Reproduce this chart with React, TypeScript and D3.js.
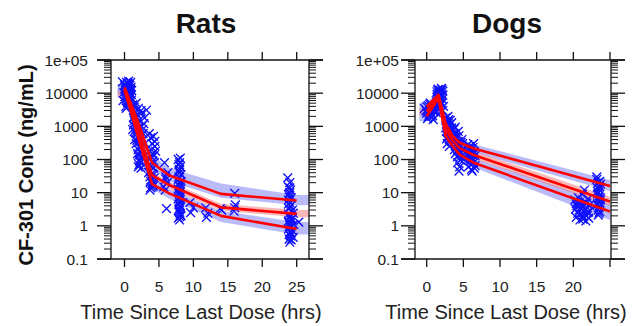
import React from "react";
import * as d3 from "d3";

const W = 632;
const H = 326;

const yTicks = [0.1, 1, 10, 100, 1000, 10000, 100000];
const yTickLabels = ["0.1", "1", "10", "100", "1000", "10000", "1e+05"];
const xTicks = [0, 5, 10, 15, 20, 25];

// ---- Rats: simulated percentiles (5th / 50th / 95th) ----
const ratTimes = [0, 1, 2, 4, 6.5, 14, 25];
const ratP95 = [15000, 4500, 1300, 80, 33, 9.2, 5.8];
const ratP50 = [13500, 3500, 800, 34, 17, 3.6, 2.3];
const ratP05 = [12000, 2500, 450, 18, 9.5, 2.0, 0.8];

// confidence bands around each percentile
const ratBandTimes = [-1, 0, 1, 2, 4, 6.5, 14, 25, 27];
const ratBand95Lo = [11000, 11500, 3300, 900, 50, 22, 7, 4.2, 4.2];
const ratBand95Hi = [19000, 19000, 6000, 2000, 130, 55, 19, 8.5, 8.5];
const ratBand50Lo = [7000, 10500, 2800, 600, 27, 13, 2.9, 1.8, 1.8];
const ratBand50Hi = [10500, 15500, 4200, 1000, 42, 21, 4.6, 3.0, 3.0];
const ratBand05Lo = [8500, 9500, 1800, 300, 13, 6.5, 1.3, 0.55, 0.55];
const ratBand05Hi = [13500, 14000, 3200, 600, 25, 13, 2.8, 1.3, 1.3];

// observed rat concentrations [time, conc]
const ratObs: [number, number][] = [
  [0.1, 18000], [0.2, 15000], [0.3, 12000], [0.15, 9500], [0.25, 8000], [0.4, 16000],
  [0.5, 20000], [0.6, 14000], [0.7, 11000], [0.8, 17000], [0.9, 13000], [1.0, 9000],
  [0.35, 7000], [0.55, 6000], [0.75, 5000], [0.2, 4000], [0.45, 19000], [0.65, 10000],
  [0.85, 7500], [0.1, 12500], [0.3, 21000], [0.5, 8500], [0.7, 18500], [0.95, 15000],
  [0.6, 6500], [0.25, 3500], [0.4, 11500], [0.8, 9800], [1.05, 12000], [0.15, 14500],
  [-0.3, 22000], [-0.2, 6000], [0.0, 17000], [-0.1, 10500], [0.05, 7800], [0.9, 21000],
  [0.6, 23000], [0.35, 13500], [0.75, 8200], [1.0, 6200], [0.45, 5200], [0.2, 11000],
  [1.2, 4500], [1.3, 3000], [1.5, 2000], [1.4, 1500], [1.6, 1000], [1.2, 800],
  [1.8, 600], [1.5, 400], [1.7, 300], [2.0, 200], [1.9, 150], [2.2, 100], [2.1, 70],
  [1.6, 2500], [1.8, 1200], [2.0, 900], [2.3, 500], [2.4, 350], [2.2, 250], [1.4, 700],
  [1.3, 1800], [2.5, 180], [2.6, 120], [2.0, 60], [2.3, 80], [1.9, 450], [2.1, 1500],
  [2.5, 2500], [2.6, 800], [2.8, 1200], [1.7, 5000], [2.4, 3000], [3.2, 3100],
  [1.4, 3800], [1.6, 650], [1.8, 380], [2.0, 130], [2.2, 90], [2.4, 55], [1.5, 1300],
  [1.7, 850], [1.9, 2200], [2.1, 320], [2.3, 160], [2.5, 1000], [2.7, 600], [2.9, 1800],
  [1.3, 1100], [2.0, 3500],
  [3.6, 600], [3.8, 450], [4.0, 300], [4.2, 500], [4.4, 350], [3.9, 200], [4.1, 150],
  [3.7, 100], [4.3, 80], [4.0, 60], [3.8, 45], [4.2, 35], [3.9, 25], [4.1, 20],
  [4.0, 15], [3.7, 12], [4.3, 28], [3.6, 70], [4.4, 250], [4.5, 180], [3.5, 40],
  [4.1, 18], [3.8, 14], [4.2, 55], [3.9, 120], [4.1, 90], [4.0, 38], [3.8, 22],
  [4.2, 16], [3.7, 30], [4.3, 130],
  [5.8, 80], [6.0, 30], [6.2, 20], [5.9, 12], [6.1, 3.3], [5.7, 15], [6.3, 40], [6.0, 25],
  [7.8, 100], [8.0, 80], [8.1, 60], [7.9, 45], [8.2, 35], [7.8, 25], [8.0, 20], [8.1, 15],
  [7.9, 12], [8.0, 10], [8.2, 8], [7.8, 6.5], [8.0, 5], [8.1, 4], [7.9, 3.2], [8.0, 2.5],
  [8.2, 2], [7.8, 1.7], [8.0, 1.5], [8.1, 110], [7.9, 70], [8.0, 50], [7.9, 30], [8.1, 18],
  [8.0, 7], [7.9, 2.8], [8.1, 3.6], [8.0, 9], [7.8, 13], [8.2, 22], [8.0, 40], [7.9, 16],
  [8.1, 11], [8.0, 5.8], [7.9, 4.4], [8.1, 2.2], [8.0, 1.9],
  [9.5, 5], [9.6, 2.5], [10.0, 3.5],
  [11.8, 3.5], [11.9, 1.8], [12.1, 2.4],
  [13.9, 3.3], [14.1, 3],
  [16.0, 9.5], [16.1, 4.3], [15.9, 2.8], [16.0, 3.5],
  [23.7, 28], [24.0, 20], [23.8, 15], [24.1, 12], [23.9, 9], [24.2, 7], [23.8, 6],
  [24.0, 5], [24.1, 4], [23.9, 3.3], [24.2, 2.7], [23.8, 2.2], [24.0, 1.8], [24.1, 1.5],
  [23.9, 1.2], [24.2, 1], [23.8, 0.8], [24.0, 0.65], [24.1, 0.5], [23.9, 0.4],
  [24.0, 0.32], [24.3, 1.6], [24.5, 2.4], [24.6, 1.1], [24.4, 3], [25.3, 1.3],
  [24.0, 10], [23.8, 4.5], [24.1, 0.9], [23.9, 0.55], [24.2, 0.38], [24.4, 0.7], [24.5, 0.45],
  [24.0, 14], [23.9, 7.5], [24.1, 2.0], [23.8, 1.4], [24.0, 1.05], [24.2, 0.6],
];

// ---- Dogs ----
const dogTimes = [0, 1.6, 2.6, 3.5, 4.5, 6.4, 25];
const dogP95 = [3900, 9000, 1200, 520, 320, 215, 16];
const dogP50 = [2800, 8000, 800, 380, 220, 137, 5.4];
const dogP05 = [2000, 7000, 500, 260, 140, 80, 2.7];

const dogBandTimes = [-1, 0, 1.6, 2.6, 3.5, 4.5, 6.4, 25];
const dogBand95Lo = [2900, 3000, 7500, 900, 400, 250, 165, 11];
const dogBand95Hi = [5000, 5200, 11000, 1600, 700, 430, 290, 24];
const dogBand50Lo = [2100, 2300, 6800, 600, 290, 170, 105, 4];
const dogBand50Hi = [3500, 3400, 9300, 1050, 500, 290, 180, 7.5];
const dogBand05Lo = [1400, 1500, 5800, 350, 190, 105, 58, 1.5];
const dogBand05Hi = [2700, 2700, 8300, 700, 350, 190, 110, 4.5];

const dogObs: [number, number][] = [
  [-0.3, 3500], [0, 2500], [0.2, 4200], [0.4, 3000], [0.6, 2000], [0.8, 3800], [1.0, 2800],
  [1.2, 4500], [0.1, 1700], [0.5, 5000], [0.7, 2400], [0.9, 1600], [1.1, 3300], [0.3, 2200],
  [-0.1, 3000], [1.3, 2600], [0.6, 3600], [0.2, 1900], [0.4, 4600], [0.8, 2100],
  [1.0, 4000], [0.0, 3900], [0.5, 2700], [0.9, 3100],
  [1.3, 6000], [1.5, 8000], [1.7, 10000], [1.9, 12000], [2.1, 9000], [1.4, 11000],
  [1.6, 13000], [1.8, 7000], [2.0, 5000], [2.2, 11500], [1.5, 4500], [1.7, 3500],
  [1.9, 2700], [2.0, 14000], [1.6, 9500], [1.8, 8500], [2.1, 6500], [2.3, 4000],
  [1.4, 7500], [2.2, 3000], [1.5, 12500], [1.7, 6800], [1.9, 5600], [2.1, 12800],
  [1.6, 5200], [1.8, 10800], [2.0, 7800], [2.2, 8700], [1.4, 9000], [1.9, 9800],
  [2.6, 1800], [2.8, 1400], [3.0, 1000], [2.7, 700], [2.9, 500], [3.1, 400], [3.3, 1200],
  [2.6, 900], [3.2, 650], [3.4, 350], [2.8, 300], [3.0, 1600], [3.3, 800], [2.7, 1100],
  [3.5, 550], [3.1, 250], [2.9, 2000], [3.4, 1300], [2.8, 850], [3.0, 600], [3.2, 1500],
  [2.7, 420], [3.1, 750], [3.3, 480], [2.9, 1250], [3.4, 900],
  [3.7, 800], [3.9, 600], [4.1, 450], [4.3, 350], [4.5, 250], [3.8, 200], [4.0, 300],
  [4.2, 180], [4.4, 140], [4.6, 120], [4.8, 400], [5.0, 220], [3.9, 950], [4.3, 700],
  [4.7, 160], [5.1, 100], [4.0, 500], [4.9, 300], [4.5, 60], [4.4, 45], [4.2, 80],
  [4.6, 95], [3.8, 380], [4.1, 260], [4.4, 520], [4.7, 330], [5.0, 140], [4.2, 120],
  [4.9, 190], [3.9, 150],
  [5.6, 280], [5.8, 200], [6.0, 150], [6.2, 110], [6.4, 80], [5.7, 60], [6.1, 50],
  [6.3, 230], [6.5, 170], [5.9, 90], [6.6, 130], [6.2, 45], [6.0, 70], [5.8, 120],
  [6.4, 300], [6.6, 65], [5.9, 250], [6.1, 190], [6.3, 95], [6.5, 55], [5.7, 160],
  [6.0, 105], [6.2, 140],
  [20.2, 6], [20.5, 4], [20.8, 3], [21.0, 2.2], [21.3, 1.6], [21.6, 5], [21.9, 3.5],
  [22.1, 2.6], [20.4, 1.8], [20.7, 7], [21.1, 4.5], [21.4, 2.8], [21.7, 1.4], [22.0, 6.5],
  [21.5, 12], [21.2, 9], [20.3, 3.2], [20.9, 1.5], [21.8, 2], [20.6, 5.5], [21.3, 3.8],
  [22.2, 4.2], [20.6, 2.4], [21.0, 3.4], [21.4, 1.9], [21.8, 4.8], [22.1, 1.7],
  [20.4, 4.6], [21.2, 2.0], [21.6, 3.0], [20.8, 5.0], [21.9, 2.5],
  [23.2, 25], [23.4, 20], [23.6, 15], [23.3, 11], [23.5, 8], [23.7, 6], [23.3, 4.5],
  [23.5, 3.5], [23.6, 2.7], [23.4, 2.1], [23.2, 30], [23.7, 18], [23.5, 12.5], [23.3, 9],
  [23.6, 5], [23.4, 3], [23.5, 2.4], [23.7, 7], [23.3, 14], [23.6, 22], [23.4, 10],
  [23.5, 16], [23.6, 4], [23.4, 6.5],
];

const FONT = "'Liberation Sans', Arial, Helvetica, sans-serif";
const BLUE_BAND = "#6c74f2";
const PINK_BAND = "#f26a6a";

type PanelProps = {
  id: string;
  title: string;
  titleX: number;
  left: number;
  right: number;
  x0: number; // pixel of t = 0
  x25: number; // pixel of t = 25
  labelGap: number;
  xLabels: number[];
  axisTitleX: number;
  times: number[];
  p95: number[];
  p50: number[];
  p05: number[];
  bandTimes: number[];
  bands: { lo: number[]; hi: number[]; color: string }[];
  obs: [number, number][];
};

const TOP = 60;
const BOTTOM = 259;

function Panel(p: PanelProps) {
  const pxPerUnit = (p.x25 - p.x0) / 25;
  const x = d3
    .scaleLinear()
    .domain([(p.left - p.x0) / pxPerUnit, (p.right - p.x0) / pxPerUnit])
    .range([p.left, p.right]);
  const y = d3.scaleLog().domain([0.1, 1e5]).range([BOTTOM, TOP]);

  const line = d3
    .line<number>()
    .x((_, i) => x(p.times[i]))
    .y((d) => y(d));
  const area = (lo: number[], hi: number[]) =>
    d3
      .area<number>()
      .x((_, i) => x(p.bandTimes[i]))
      .y0((_, i) => y(lo[i]))
      .y1((_, i) => y(hi[i]))(lo) || "";

  const minor: number[] = [];
  for (let e = -1; e < 5; e++) {
    for (let k = 2; k <= 9; k++) minor.push(k * Math.pow(10, e));
  }

  const clipId = `clip-${p.id}`;
  const s = 4.4;

  return (
    <g>
      <defs>
        <clipPath id={clipId}>
          <rect x={p.left} y={TOP} width={p.right - p.left} height={BOTTOM - TOP} />
        </clipPath>
      </defs>
      <text x={p.titleX} y={33} textAnchor="middle" fontFamily={FONT} fontWeight="bold" fontSize={28} fill="#111">
        {p.title}
      </text>

      <g clipPath={`url(#${clipId})`}>
        {p.bands.map((b, i) => (
          <path key={i} d={area(b.lo, b.hi)} fill={b.color} fillOpacity={0.48} />
        ))}
      </g>

      <g stroke="#1010ff" strokeWidth={1.35} fill="none">
        {p.obs.map(([t, c], i) => (
          <path
            key={i}
            transform={`translate(${x(t)},${y(c)})`}
            d={`M${-s},${-s}L${s},${s}M${-s},${s}L${s},${-s}`}
          />
        ))}
      </g>

      <g clipPath={`url(#${clipId})`} fill="none" stroke="#ff0000" strokeWidth={2.6} strokeLinejoin="round">
        <path d={line(p.p95) || ""} />
        <path d={line(p.p50) || ""} />
        <path d={line(p.p05) || ""} />
      </g>

      {/* frame */}
      <g stroke="#111" strokeWidth={1.3} fill="none">
        <line x1={p.left} x2={p.left} y1={TOP} y2={BOTTOM} />
        <line x1={p.right} x2={p.right} y1={TOP} y2={BOTTOM} />
        {yTicks.map((v) => (
          <g key={v}>
            <line x1={p.left - 14} x2={p.left} y1={y(v)} y2={y(v)} />
            <line x1={p.right} x2={p.right + 14} y1={y(v)} y2={y(v)} />
          </g>
        ))}
        {minor.map((v) => (
          <g key={v} strokeWidth={1}>
            <line x1={p.left - 7} x2={p.left} y1={y(v)} y2={y(v)} />
            <line x1={p.right} x2={p.right + 7} y1={y(v)} y2={y(v)} />
          </g>
        ))}
        <line x1={p.left - 14} x2={p.right + 14} y1={TOP} y2={TOP} />
        <line x1={p.left - 14} x2={p.right + 14} y1={BOTTOM} y2={BOTTOM} />
        {xTicks.map((t) => (
          <g key={t}>
            <line x1={x(t)} x2={x(t)} y1={TOP} y2={TOP - 8} />
            <line x1={x(t)} x2={x(t)} y1={BOTTOM} y2={BOTTOM + 8} />
          </g>
        ))}
      </g>

      <g fontFamily={FONT} fontSize={15.5} fill="#222">
        {yTicks.map((v, i) => (
          <text key={v} x={p.left - p.labelGap} y={y(v)} dy="0.36em" textAnchor="end">
            {yTickLabels[i]}
          </text>
        ))}
        {p.xLabels.map((t) => (
          <text key={t} x={x(t)} y={292} textAnchor="middle">
            {t}
          </text>
        ))}
      </g>
      <text x={p.axisTitleX} y={319} textAnchor="middle" fontFamily={FONT} fontSize={20} fill="#222">
        Time Since Last Dose (hrs)
      </text>
    </g>
  );
}

export default function App() {
  return (
    <svg width={W} height={H} style={{ display: "block", position: "absolute", left: 0, top: 0, background: "#fff" }}>
      <text
        transform="translate(33,165) rotate(-90)"
        textAnchor="middle"
        fontFamily={FONT}
        fontWeight="bold"
        fontSize={20}
        fill="#111"
      >
        CF-301 Conc (ng/mL)
      </text>
      <Panel
        id="rats"
        title="Rats"
        titleX={206}
        left={111}
        right={309}
        x0={124.5}
        x25={296.7}
        labelGap={23}
        xLabels={[0, 5, 10, 15, 20, 25]}
        axisTitleX={201}
        times={ratTimes}
        p95={ratP95}
        p50={ratP50}
        p05={ratP05}
        bandTimes={ratBandTimes}
        bands={[
          { lo: ratBand95Lo, hi: ratBand95Hi, color: BLUE_BAND },
          { lo: ratBand05Lo, hi: ratBand05Hi, color: BLUE_BAND },
          { lo: ratBand50Lo, hi: ratBand50Hi, color: PINK_BAND },
        ]}
        obs={ratObs}
      />
      <Panel
        id="dogs"
        title="Dogs"
        titleX={507}
        left={415}
        right={611}
        x0={426.7}
        x25={610}
        labelGap={16}
        xLabels={[0, 5, 10, 15, 20]}
        axisTitleX={506}
        times={dogTimes}
        p95={dogP95}
        p50={dogP50}
        p05={dogP05}
        bandTimes={dogBandTimes}
        bands={[
          { lo: dogBand95Lo, hi: dogBand95Hi, color: BLUE_BAND },
          { lo: dogBand05Lo, hi: dogBand05Hi, color: BLUE_BAND },
          { lo: dogBand50Lo, hi: dogBand50Hi, color: PINK_BAND },
        ]}
        obs={dogObs}
      />
    </svg>
  );
}
